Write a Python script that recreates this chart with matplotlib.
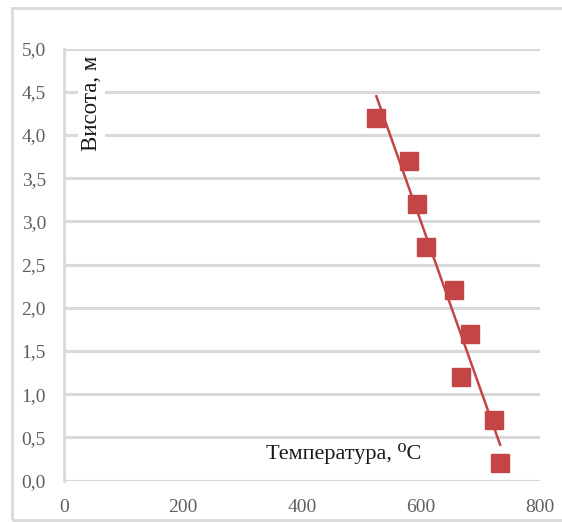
import matplotlib
matplotlib.use("Agg")
import matplotlib.pyplot as plt
import numpy as np
from matplotlib.patches import Rectangle

# Measured temperature at each height
temperature = [525, 580, 594, 608, 655, 683, 668, 722, 733]
height = [4.2, 3.7, 3.2, 2.7, 2.2, 1.7, 1.2, 0.7, 0.2]

x_ticks = [0, 200, 400, 600, 800]
y_ticks = [0.0, 0.5, 1.0, 1.5, 2.0, 2.5, 3.0, 3.5, 4.0, 4.5, 5.0]

serif = ["Liberation Serif", "DejaVu Serif"]
red = "#C44545"
grid_gray = "#D9D9D9"
label_gray = "#5F5F5F"

fig = plt.figure(figsize=(5.62, 5.22), dpi=100)
fig.patch.set_facecolor("white")

# chart-area frame
fig.add_artist(Rectangle((12 / 562, 2 / 522), 1.0, 512 / 522, transform=fig.transFigure,
                         fill=False, edgecolor=grid_gray, linewidth=2.0))

ax = fig.add_axes([64 / 562, (522 - 480.5) / 522, 476 / 562, 432 / 522])
ax.set_xlim(0, 800)
ax.set_ylim(0, 5)

for s in ("top", "right", "bottom"):
    ax.spines[s].set_visible(False)
ax.spines["left"].set_color(grid_gray)
ax.spines["left"].set_linewidth(2.0)

ax.set_yticks(y_ticks)
ax.set_yticklabels([f"{v:.1f}".replace(".", ",") for v in y_ticks])
ax.set_xticks(x_ticks)
ax.set_xticklabels([str(v) for v in x_ticks])
ax.tick_params(axis="both", length=0, labelcolor=label_gray, labelsize=14)
ax.tick_params(axis="y", pad=13)
ax.tick_params(axis="x", pad=13)
for lab in ax.get_xticklabels() + ax.get_yticklabels():
    lab.set_fontfamily(serif)

ax.yaxis.grid(True, color=grid_gray, linewidth=2.2)
ax.xaxis.grid(False)
ax.set_axisbelow(True)

# linear trend over the measured range
k, b = np.polyfit(temperature, height, 1)
xt = np.array([min(temperature), max(temperature)])
ax.plot(xt, k * xt + b, color=red, linewidth=1.8, zorder=3)

ax.plot(temperature, height, linestyle="none", marker="s", markersize=12.5,
        color=red, markeredgecolor=red, zorder=4)

ax.text(0.058, 0.872, "Висота, м", rotation=90, transform=ax.transAxes,
        ha="center", va="center", fontsize=16.5, family=serif, color="#1a1a1a",
        bbox=dict(facecolor="white", edgecolor="none", pad=2), zorder=5)
ax.text(0.588, 0.062, "Температура, ⁰C", transform=ax.transAxes,
        ha="center", va="center", fontsize=16, family=serif, color="#1a1a1a", zorder=5)

fig.savefig("out.png", dpi=100)
